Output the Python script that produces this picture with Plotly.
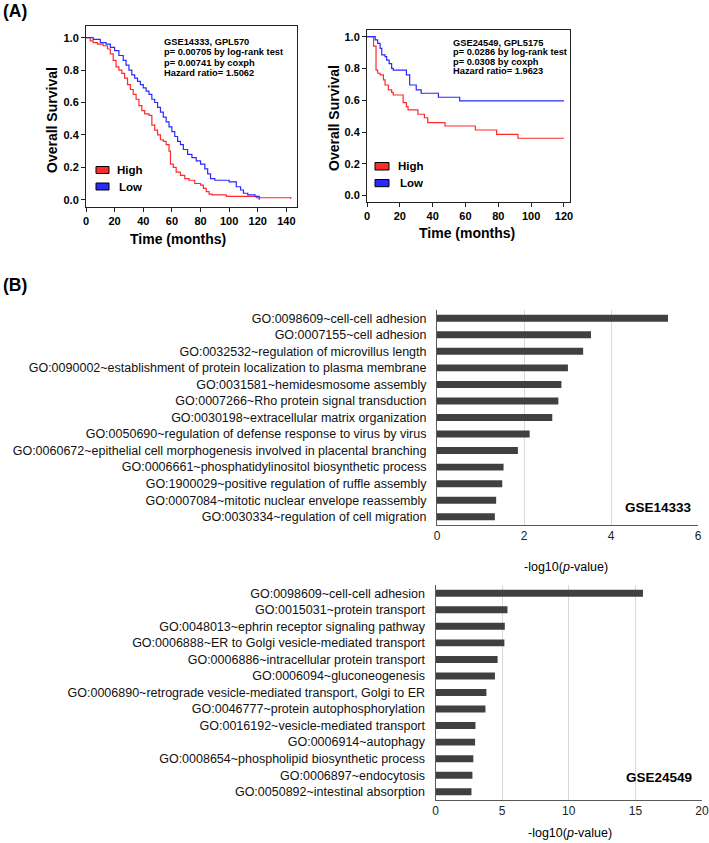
import plotly.graph_objects as go

W, H = 709, 843

# ---------------- Data ----------------
km1_high_t = [0, 3, 5, 8, 12, 15, 17, 19, 21, 23, 25, 27, 29, 31, 33, 35, 37, 39, 41, 44, 46, 48, 50, 52, 54, 56, 58, 59, 61, 63, 66, 69, 72, 76, 80, 82, 84, 86, 88, 98, 119, 143]
km1_high_s = [1.0, 0.98, 0.97, 0.96, 0.95, 0.93, 0.90, 0.86, 0.82, 0.80, 0.78, 0.75, 0.71, 0.68, 0.65, 0.62, 0.58, 0.55, 0.53, 0.52, 0.46, 0.43, 0.40, 0.37, 0.36, 0.34, 0.30, 0.22, 0.20, 0.17, 0.15, 0.13, 0.12, 0.10, 0.09, 0.07, 0.05, 0.035, 0.03, 0.02, 0.012, 0.005]

km1_low_t = [0, 5, 10, 14, 17, 20, 23, 26, 28, 30, 32, 34, 36, 38, 40, 42, 44, 46, 48, 50, 52, 54, 56, 58, 60, 62, 64, 66, 68, 71, 74, 77, 80, 83, 85, 87, 90, 100, 105, 108, 110, 113, 118, 121]
km1_low_s = [1.0, 0.99, 0.97, 0.96, 0.94, 0.92, 0.89, 0.86, 0.83, 0.80, 0.77, 0.75, 0.73, 0.71, 0.69, 0.67, 0.65, 0.62, 0.60, 0.57, 0.54, 0.51, 0.48, 0.45, 0.42, 0.39, 0.36, 0.34, 0.31, 0.28, 0.26, 0.24, 0.22, 0.19, 0.16, 0.13, 0.12, 0.11, 0.08, 0.06, 0.04, 0.03, 0.02, 0.0]

km2_high_t = [0, 4, 5.5, 6.5, 8, 10, 11, 13, 15, 16, 22, 24, 25, 31, 35, 37, 47.5, 66, 79, 92, 120]
km2_high_s = [1.0, 0.94, 0.79, 0.77, 0.76, 0.728, 0.696, 0.665, 0.65, 0.633, 0.585, 0.56, 0.539, 0.512, 0.49, 0.459, 0.438, 0.413, 0.386, 0.361, 0.361]

km2_low_t = [0, 5, 6.5, 8, 9, 11, 12, 13.5, 15, 16, 24, 26, 30, 33, 43.5, 56.5, 120]
km2_low_s = [1.0, 0.98, 0.958, 0.927, 0.885, 0.875, 0.853, 0.83, 0.80, 0.79, 0.76, 0.696, 0.665, 0.644, 0.619, 0.596, 0.596]

km1_stats = ["GSE14333, GPL570", "p= 0.00705 by log-rank test", "p= 0.00741 by coxph", "Hazard ratio= 1.5062"]
km2_stats = ["GSE24549, GPL5175", "p= 0.0286 by log-rank test", "p= 0.0308 by coxph", "Hazard ratio= 1.9623"]

go1_terms = [
    "GO:0098609~cell-cell adhesion",
    "GO:0007155~cell adhesion",
    "GO:0032532~regulation of microvillus length",
    "GO:0090002~establishment of protein localization to plasma membrane",
    "GO:0031581~hemidesmosome assembly",
    "GO:0007266~Rho protein signal transduction",
    "GO:0030198~extracellular matrix organization",
    "GO:0050690~regulation of defense response to virus by virus",
    "GO:0060672~epithelial cell morphogenesis involved in placental branching",
    "GO:0006661~phosphatidylinositol biosynthetic process",
    "GO:1900029~positive regulation of ruffle assembly",
    "GO:0007084~mitotic nuclear envelope reassembly",
    "GO:0030334~regulation of cell migration",
]
go1_values = [5.31, 3.54, 3.36, 3.01, 2.86, 2.79, 2.65, 2.13, 1.86, 1.53, 1.50, 1.36, 1.33]

go2_terms = [
    "GO:0098609~cell-cell adhesion",
    "GO:0015031~protein transport",
    "GO:0048013~ephrin receptor signaling pathway",
    "GO:0006888~ER to Golgi vesicle-mediated transport",
    "GO:0006886~intracellular protein transport",
    "GO:0006094~gluconeogenesis",
    "GO:0006890~retrograde vesicle-mediated transport, Golgi to ER",
    "GO:0046777~protein autophosphorylation",
    "GO:0016192~vesicle-mediated transport",
    "GO:0006914~autophagy",
    "GO:0008654~phospholipid biosynthetic process",
    "GO:0006897~endocytosis",
    "GO:0050892~intestinal absorption",
]
go2_values = [15.57, 5.40, 5.20, 5.17, 4.66, 4.46, 3.82, 3.75, 3.00, 2.97, 2.84, 2.77, 2.70]

RED = "#ff2a2a"
BLUE = "#2a2aff"
BAR = "#404040"
ARIAL = "Liberation Sans, Arial, sans-serif"


def xd(a, b):
    return [a / W, b / W]


def yd(top, bottom):
    return [1 - bottom / H, 1 - top / H]


def px(x):
    return x / W


def py(y):
    return 1 - y / H


fig = go.Figure()

# KM curves
fig.add_trace(go.Scatter(x=km1_high_t, y=km1_high_s, mode="lines", line=dict(color=RED, width=1.2, shape="hv"), xaxis="x", yaxis="y", showlegend=False))
fig.add_trace(go.Scatter(x=km1_low_t, y=km1_low_s, mode="lines", line=dict(color=BLUE, width=1.2, shape="hv"), xaxis="x", yaxis="y", showlegend=False))
fig.add_trace(go.Scatter(x=km2_high_t, y=km2_high_s, mode="lines", line=dict(color=RED, width=1.2, shape="hv"), xaxis="x2", yaxis="y2", showlegend=False))
fig.add_trace(go.Scatter(x=km2_low_t, y=km2_low_s, mode="lines", line=dict(color=BLUE, width=1.2, shape="hv"), xaxis="x2", yaxis="y2", showlegend=False))

# GO bars
fig.add_trace(go.Bar(x=go1_values, y=go1_terms, orientation="h", marker=dict(color=BAR, line=dict(width=0)), width=0.42, xaxis="x3", yaxis="y3", showlegend=False))
fig.add_trace(go.Bar(x=go2_values, y=go2_terms, orientation="h", marker=dict(color=BAR, line=dict(width=0)), width=0.42, xaxis="x4", yaxis="y4", showlegend=False))

km_tickfont = dict(family=ARIAL, size=11, color="black", weight="bold")
km_axis = dict(showline=True, linecolor="#222", linewidth=1, mirror=True, ticks="outside", ticklen=4, tickcolor="#222",
               showgrid=False, zeroline=False, tickfont=km_tickfont, automargin=False)

bar_x = dict(showline=True, linecolor="#595959", linewidth=1, showgrid=True, gridcolor="#d9d9d9", gridwidth=1, zeroline=False,
             ticks="", tickfont=dict(family=ARIAL, size=12, color="#222"), automargin=False, ticklabeloverflow="allow")
bar_y = dict(showline=True, linecolor="#595959", linewidth=1, showgrid=False, zeroline=False, ticks="", autorange="reversed",
             tickfont=dict(family=ARIAL, size=12.5, color="#111"), ticklabelstandoff=7, automargin=False)

fig.update_layout(
    template="none",
    width=W, height=H, margin=dict(l=0, r=0, t=0, b=0, pad=0),
    paper_bgcolor="white", plot_bgcolor="white",
    xaxis=dict(km_axis, domain=xd(86, 297), range=[0, 147.4], tickvals=[0, 20, 40, 60, 80, 100, 120, 140], anchor="y"),
    yaxis=dict(km_axis, domain=yd(26, 207), range=[-0.045, 1.072], tickvals=[0, 0.2, 0.4, 0.6, 0.8, 1.0], tickformat=".1f", anchor="x"),
    xaxis2=dict(km_axis, domain=xd(367, 570), range=[0, 123.7], tickvals=[0, 20, 40, 60, 80, 100, 120], anchor="y2"),
    yaxis2=dict(km_axis, domain=yd(30, 202), range=[-0.04, 1.042], tickvals=[0, 0.2, 0.4, 0.6, 0.8, 1.0], tickformat=".1f", anchor="x2"),
    xaxis3=dict(bar_x, domain=xd(437, 698), range=[0, 6], tickvals=[0, 2, 4, 6], anchor="y3"),
    yaxis3=dict(bar_y, domain=yd(310, 525), anchor="x3"),
    xaxis4=dict(bar_x, domain=xd(435.5, 702), range=[0, 20], tickvals=[0, 5, 10, 15, 20], anchor="y4"),
    yaxis4=dict(bar_y, domain=yd(585, 800), anchor="x4"),
)

ann = []


def text(x, y, s, size, xanchor="left", bold=True, family=ARIAL, color="black", angle=0):
    ann.append(dict(x=px(x), y=py(y), xref="paper", yref="paper", text=s, showarrow=False, xanchor=xanchor, yanchor="middle",
                    textangle=angle, font=dict(family=family, size=size, color=color, weight="bold" if bold else "normal")))


text(1, 11, "(A)", 17.5)
text(1, 285, "(B)", 17.5)

# KM titles
text(52, 120, "Overall Survival", 14, xanchor="center", angle=-90)
text(178, 239, "Time (months)", 14, xanchor="center")
text(334, 118, "Overall Survival", 14, xanchor="center", angle=-90)
text(467, 233, "Time (months)", 14, xanchor="center")

# stats text
for i, s in enumerate(km1_stats):
    text(162, 42.3 + i * 10.2, s, 9.3)
for i, s in enumerate(km2_stats):
    text(450.5, 42.7 + i * 9.4, s, 9.3)

# legends
shapes = []
for (x0, y0, x1, y1, col) in [(96, 166.5, 109, 173.5, RED), (96, 183, 109, 190, BLUE),
                               (375, 162.5, 389, 170, RED), (375, 179.5, 389, 186.7, BLUE)]:
    shapes.append(dict(type="rect", xref="paper", yref="paper", x0=px(x0), x1=px(x1), y0=py(y1), y1=py(y0),
                       fillcolor=col, line=dict(color="black", width=1)))
text(115, 170, "High", 11.5)
text(117, 186.5, "Low", 11.5)
text(396, 166.5, "High", 11.5)
text(398, 183, "Low", 11.5)

# GO charts
text(566, 567, "-log10(<i>p</i>-value)", 12.5, xanchor="center", bold=False)
text(570, 833, "-log10(<i>p</i>-value)", 12.5, xanchor="center", bold=False)
text(694, 508, "GSE14333", 13.5, xanchor="right")
text(694, 777, "GSE24549", 13.5, xanchor="right")

fig.update_layout(annotations=ann, shapes=shapes)

fig.write_html("out.html",
               config={"displayModeBar": False},
               post_script="document.body.style.margin='0';document.body.style.padding='0';document.body.style.overflow='hidden';")
